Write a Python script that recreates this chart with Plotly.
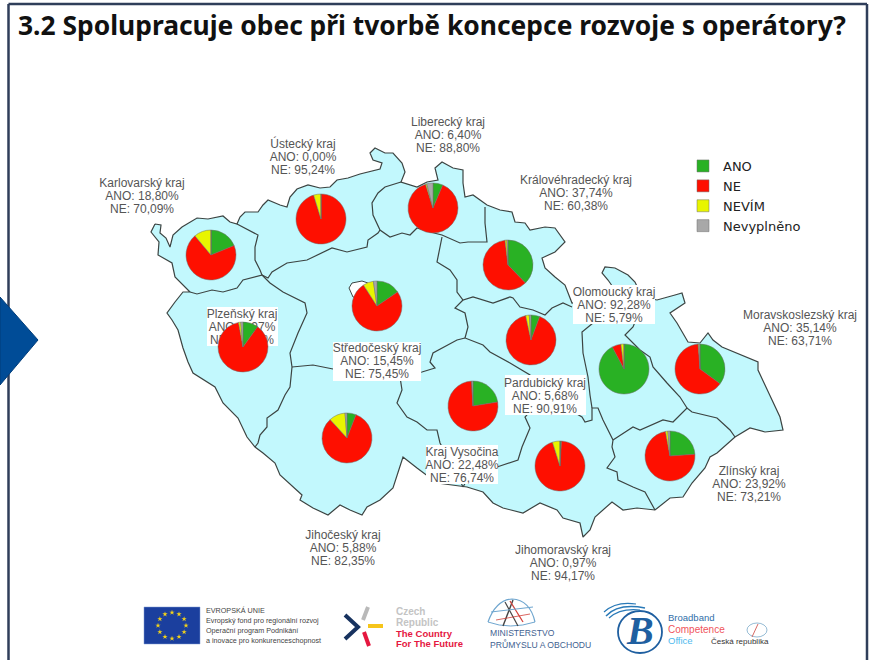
import math
import plotly.graph_objects as go

W, H = 875, 660

# ---------- data ----------
answers = ["ANO", "NE", "NEVÍM", "Nevyplněno"]
answer_colors = ["#29b124", "#fe0f00", "#e8f500", "#a8a8a8"]

regions = ["Karlovarský kraj", "Ústecký kraj", "Liberecký kraj", "Královéhradecký kraj",
           "Plzeňský kraj", "Středočeský kraj", "Pardubický kraj", "Olomoucký kraj",
           "Moravskoslezský kraj", "Kraj Vysočina", "Jihočeský kraj", "Jihomoravský kraj",
           "Zlínský kraj"]
ano =        [18.80, 0.00, 6.40, 37.74, 9.97, 15.45, 5.68, 92.28, 35.14, 22.48, 5.88, 0.97, 23.92]
ne =         [70.09, 95.24, 88.80, 60.38, 87.18, 75.45, 90.91, 5.79, 63.71, 76.74, 82.35, 94.17, 73.21]
nevim =      [11.11, 4.76, 0.80, 1.20, 1.40, 6.80, 2.30, 1.93, 0.57, 0.00, 10.50, 4.86, 1.50]
nevyplneno = [0.00, 0.00, 4.00, 0.68, 1.45, 2.30, 1.11, 0.00, 0.58, 0.78, 1.27, 0.00, 1.37]
ano_txt = ["18,80", "0,00", "6,40", "37,74", "9,97", "15,45", "5,68", "92,28", "35,14", "22,48", "5,88", "0,97", "23,92"]
ne_txt = ["70,09", "95,24", "88,80", "60,38", "87,18", "75,45", "90,91", "5,79", "63,71", "76,74", "82,35", "94,17", "73,21"]

# placement, in page pixels
pie_x = [211, 321, 433, 508, 243, 377, 531, 624, 700, 473, 347, 560, 670]
pie_y = [255, 219, 208, 265, 347, 306, 340, 369, 369, 406, 438, 466, 456]
pie_r = 25
label_x = [142, 303, 448, 576, 242, 377, 545, 614, 800, 462, 343, 563, 749]
label_y = [197, 158, 136, 194, 328, 362, 397, 306, 329, 466, 549, 564, 485]
line_step = 13.4
# white plates behind some labels: x0, x1, y0, y1
plates = [(207, 278, 307, 346), (573, 655, 285, 324), (333, 421, 342, 381),
          (505, 586, 375, 415), (426, 498, 445, 484)]

# ---------- map geometry ----------
outline = [(155,224),(151,232),(159,242),(158,255),(172,263),(175,277),(190,292),(183,292),(175,302),(167,313),
 (172,320),(178,330),(183,348),(188,362),(193,373),(203,379),(215,387),(223,403),(238,418),(247,437),(255,447),
 (263,453),(275,463),(280,475),(302,495),(300,500),(313,508),(328,515),(340,505),(350,510),(362,515),(367,507),
 (380,500),(393,488),(398,472),(403,457),(417,468),(437,483),(467,487),(483,492),(493,503),(503,508),(523,513),
 (540,503),(557,510),(563,518),(580,523),(583,537),(590,530),(595,517),(612,502),(623,510),(637,508),(655,510),
 (670,498),(683,497),(692,483),(705,468),(710,457),(717,453),(735,437),(750,428),(765,432),(783,430),(780,417),
 (772,400),(758,370),(758,362),(737,353),(722,347),(713,340),(708,333),(700,343),(688,342),(677,323),(670,313),
 (685,303),(682,293),(675,295),(657,300),(642,297),(635,282),(628,275),(615,268),(605,267),(602,273),(608,280),
 (615,290),(600,300),(572,303),(565,285),(555,277),(545,268),(542,258),(555,252),(565,242),(555,228),(545,227),
 (530,230),(525,223),(515,222),(512,212),(500,210),(487,205),(473,195),(465,197),(463,183),(463,170),(453,168),
 (442,162),(435,168),(438,180),(427,182),(417,187),(401,182),(405,172),(402,163),(393,153),(385,153),(375,148),
 (370,153),(373,160),(382,163),(380,169),(360,174),(348,178),(337,180),(330,187),(320,188),(308,185),(297,189),
 (290,197),(287,207),(280,205),(268,200),(263,205),(258,212),(245,212),(240,217),(237,224),(230,222),(223,216),
 (208,219),(197,218),(182,227),(173,235),(170,247),(166,238),(160,233),(161,225),(155,224)]
borders = [
 [(237,224),(258,235),(255,247),(255,260),(260,270),(262,275),(243,280),(237,288),(223,292),(212,290),(197,294),(190,292)],
 [(262,275),(268,278),(272,272),(287,263),(307,260),(322,253),(332,248),(347,252),(367,247),(368,240),(378,233),(380,230)],
 [(401,182),(385,187),(378,193),(372,203),(373,215),(380,230),(390,237),(402,233),(410,235),(417,228),(430,232),
  (442,235),(460,243),(468,242),(487,242),(485,223),(485,207)],
 [(442,237),(440,248),(437,262),(450,270),(457,280),(457,292),(463,300),(473,297),(493,303),(510,297),(513,298),
  (520,307),(533,310),(545,315),(552,308),(563,303),(572,307)],
 [(463,300),(455,308),(465,313),(468,327),(465,338),(483,345),(490,352),(510,363),(530,375),(540,400),(570,410),
  (582,417),(585,422),(592,420),(592,408),(598,408),(603,420),(613,440)],
 [(465,338),(457,340),(433,353),(430,362),(435,368),(422,372),(402,375),(400,377),(402,390),(397,403),(407,417),
  (417,422),(427,430),(437,430),(440,443),(455,470),(463,487)],
 [(402,375),(360,372),(333,369),(313,365),(292,367)],
 [(262,275),(270,283),(283,292),(305,303),(307,313),(298,333),(290,353),(292,367),(290,387),(285,395),
  (278,410),(267,418),(267,427),(260,435),(258,443),(255,447)],
 [(593,323),(582,332),(583,353),(588,377),(590,395),(592,408)],
 [(540,400),(525,417),(530,428),(522,447),(518,460),(497,467),(470,475),(463,487)],
 [(613,440),(633,427),(640,430),(663,420),(673,422),(687,408),(692,412),(717,418),(730,430),(735,437)],
 [(640,310),(633,327),(625,335),(640,350),(650,357),(653,367),(667,383),(680,397),(687,408)],
 [(613,440),(612,447),(615,457),(607,468),(617,472),(618,480),(633,487),(645,492),(655,510)],
]
prague = [(349,288),(352,283),(362,281),(368,283),(366,300),(353,297),(349,288)]

fig = go.Figure()
lc = "#3c4442"

def xs(p): return [a for a, _ in p]
def ys(p): return [b for _, b in p]

# country and region lines
fig.add_trace(go.Scatter(x=xs(outline), y=ys(outline), mode="lines", fill="toself",
                         fillcolor="#c2f8fd", line=dict(color=lc, width=1.2), hoverinfo="skip", showlegend=False))
for b in borders:
    fig.add_trace(go.Scatter(x=xs(b), y=ys(b), mode="lines", line=dict(color=lc, width=1.2),
                             hoverinfo="skip", showlegend=False))
fig.add_trace(go.Scatter(x=xs(prague), y=ys(prague), mode="lines", fill="toself", fillcolor="white",
                         line=dict(color=lc, width=1), hoverinfo="skip", showlegend=False))

# label plates
for x0, x1, y0, y1 in plates:
    fig.add_trace(go.Scatter(x=[x0, x1, x1, x0, x0], y=[y0, y0, y1, y1, y0], mode="lines", fill="toself",
                             fillcolor="white", line=dict(width=0), hoverinfo="skip", showlegend=False))

# region labels, one line of text per row so the leading matches
line_texts = [regions, [f"ANO: {a}%" for a in ano_txt], [f"NE: {n}%" for n in ne_txt]]
for row, texts in enumerate(line_texts):
    fig.add_trace(go.Scatter(
        x=label_x, y=[v + (row - 1) * line_step for v in label_y], mode="text",
        showlegend=False, hoverinfo="skip", text=texts, textposition="middle center",
        textfont=dict(family="Liberation Sans", size=12, color="#555555")))

# pies
for i, r in enumerate(regions):
    fig.add_trace(go.Pie(
        labels=answers, values=[ano[i], ne[i], nevim[i], nevyplneno[i]], name=r,
        sort=False, direction="clockwise", rotation=0, textinfo="none", hoverinfo="label+percent",
        marker=dict(colors=answer_colors, line=dict(color="#6f6f6f", width=0.5)),
        domain=dict(x=[(pie_x[i] - pie_r) / W, (pie_x[i] + pie_r) / W],
                    y=[1 - (pie_y[i] + pie_r) / H, 1 - (pie_y[i] - pie_r) / H]),
        showlegend=True))

shapes = []
# slide frame
for x0, y0, x1, y1 in [(8.5, 4, 8.5, 660), (867, 4, 867, 660), (8.5, 4, 867, 4)]:
    shapes.append(dict(type="line", xref="x", yref="y", x0=x0, y0=y0, x1=x1, y1=y1,
                       line=dict(color="#2f3e5a", width=2.5)))
# arrow
shapes.append(dict(type="path", xref="x", yref="y", path="M0,297 L38,340 L0,385 Z",
                   fillcolor="#004c97", line=dict(color="#003d7a", width=1)))
# EU flag
shapes.append(dict(type="rect", xref="x", yref="y", x0=144, y0=607, x1=200, y1=644, layer="below",
                   fillcolor="#1b3f9e", line=dict(color="#7f9ad0", width=0.5)))
# Czech Republic mark
shapes += [
    dict(type="path", xref="x", yref="y", path="M345,615 L358,627 L345,639", line=dict(color="#17325f", width=4)),
    dict(type="line", xref="x", yref="y", x0=368, y0=607, x1=363, y1=620, line=dict(color="#b9b9b9", width=4)),
    dict(type="line", xref="x", yref="y", x0=368, y0=626, x1=383, y1=626, line=dict(color="#f6c51a", width=4)),
    dict(type="line", xref="x", yref="y", x0=364, y0=632, x1=369, y1=646, line=dict(color="#e5173f", width=4)),
]
# ministry globe
shapes += [
    dict(type="path", xref="x", yref="y", path="M488,622 Q496,600 512,599 Q530,600 535,622",
         line=dict(color="#6fa6cf", width=1.2)),
    dict(type="path", xref="x", yref="y", path="M488,622 Q510,630 535,622", line=dict(color="#6fa6cf", width=1)),
    dict(type="line", xref="x", yref="y", x0=503, y0=626, x1=513, y1=600, line=dict(color="#444", width=1.4)),
    dict(type="line", xref="x", yref="y", x0=505, y0=602, x1=518, y1=626, line=dict(color="#444", width=1.2)),
    dict(type="line", xref="x", yref="y", x0=510, y0=601, x1=523, y1=622, line=dict(color="#d2403a", width=1.3)),
    dict(type="line", xref="x", yref="y", x0=491, y0=612, x1=533, y1=607, line=dict(color="#6fa6cf", width=1)),
    dict(type="line", xref="x", yref="y", x0=496, y0=620, x1=530, y1=614, line=dict(color="#d2403a", width=0.8)),
]
# Broadband mark
shapes += [
    dict(type="circle", xref="x", yref="y", x0=618, y0=611, x1=662, y1=653, line=dict(color="#1f5fa0", width=1.8)),
    dict(type="path", xref="x", yref="y", path="M606,616 Q618,603 645,608", line=dict(color="#2a7ab8", width=1.5)),
    dict(type="path", xref="x", yref="y", path="M609,618 Q620,608 640,610", line=dict(color="#2a7ab8", width=1.2)),
    dict(type="path", xref="x", yref="y", path="M604,612 Q616,601 636,604", line=dict(color="#2a7ab8", width=1.2)),
    dict(type="circle", xref="x", yref="y", x0=747, y0=623, x1=767, y1=637, line=dict(color="#7aa9c9", width=0.8)),
    dict(type="line", xref="x", yref="y", x0=752, y0=637, x1=758, y1=624, line=dict(color="#c9453f", width=0.8)),
]

def note(x, y, text, size, color, family="Liberation Sans", anchor="left", bold=False, italic=False):
    t = f"<b>{text}</b>" if bold else text
    t = f"<i>{t}</i>" if italic else t
    return dict(x=x, y=y, xref="x", yref="y", text=t, showarrow=False, xanchor=anchor, yanchor="middle",
                font=dict(family=family, size=size, color=color), align="left")

annotations = [
    note(16, 25, "3.2 Spolupracuje obec při tvorbě koncepce rozvoje s operátory?", 26.4, "#111111",
         family="Noto Sans", bold=True),
    note(204, 610, "EVROPSKÁ UNIE", 7.2, "#444"),
    note(204, 620, "Evropský fond pro regionální rozvoj", 7.2, "#444"),
    note(204, 630, "Operační program Podnikání", 7.2, "#444"),
    note(204, 640, "a inovace pro konkurenceschopnost", 7.2, "#444"),
    note(394, 611, "Czech", 10, "#c4c4c4", bold=True),
    note(394, 622, "Republic", 10, "#c4c4c4", bold=True),
    note(394, 633, "The Country", 9.5, "#e5173f", bold=True),
    note(394, 643, "For The Future", 9.5, "#e5173f", bold=True),
    note(488, 633, "MINISTERSTVO", 8.6, "#3f6290"),
    note(488, 644, "PRŮMYSLU A OBCHODU", 8.6, "#3f6290"),
    note(640, 630, "B", 40, "#1f5fa0", family="Liberation Serif", anchor="center", bold=True, italic=True),
    note(666, 617, "Broadband", 9.5, "#2f6ea8"),
    note(666, 629, "Competence", 10, "#f0545c"),
    note(666, 640, "Office", 9.5, "#4db9ee"),
    note(709, 641, "Česká republika", 8, "#333"),
]

# EU stars
star_x = [172 + 14 * math.sin(k * math.pi / 6) for k in range(12)]
star_y = [625.5 - 13 * math.cos(k * math.pi / 6) for k in range(12)]
fig.add_trace(go.Scatter(x=star_x, y=star_y, mode="markers", hoverinfo="skip", showlegend=False,
                         marker=dict(symbol="star", size=4, color="#f2d21a")))

fig.update_layout(
    width=W, height=H, autosize=False, margin=dict(l=0, r=0, t=0, b=0),
    paper_bgcolor="white", plot_bgcolor="white",
    xaxis=dict(range=[0, W], visible=False, fixedrange=True),
    yaxis=dict(range=[H, 0], visible=False, fixedrange=True),
    legend=dict(x=683 / W, y=1 - 151 / H, xanchor="left", yanchor="top", bgcolor="rgba(0,0,0,0)",
                font=dict(family="DejaVu Sans", size=13, color="#222222"), traceorder="normal"),
    shapes=shapes, annotations=annotations,
)
fig.write_html("out.html", post_script="document.body.style.margin='0';",
               config=dict(displayModeBar=False))
